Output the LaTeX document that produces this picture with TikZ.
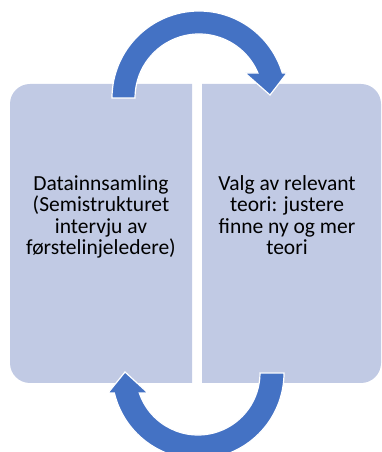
\documentclass[tikz,border=0pt]{standalone}
\usepackage{fontspec}
\setmainfont{Carlito}
\usetikzlibrary{positioning, calc}
\definecolor{boxblue}{HTML}{C1CAE4}
\definecolor{arrowblue}{HTML}{4472C4}

\begin{document}
\begin{tikzpicture}[x=1pt, y=1pt,
  stepbox/.style={fill=boxblue},
  steptext/.style={align=center, inner sep=0pt, anchor=north,
    font=\fontsize{21.5}{21.6}\selectfont},
  cyclearrow/.style={fill=arrowblue, draw=white, line width=1.2pt, line join=miter}]
  \useasboundingbox (0,0) rectangle (382,452);
  \clip (0,0) rectangle (382,452);

  % Boxes (outer corners rounded)
  \fill[stepbox] (192,69) -- (30,69) arc (270:180:20) -- (10,348) arc (180:90:20) -- (192,368) -- cycle;
  \fill[stepbox] (202,69) -- (361,69) arc (-90:0:20) -- (381,348) arc (0:90:20) -- (202,368) -- cycle;

  % Texts
  \node[steptext] (collect) at (101,277) {Datainnsamling\\(Semistrukturet\\intervju av\\førstelinjeledere)};
  \node[steptext] (theory) at (287,277) {Valg av relevant\\teori: justere\\finne ny og mer\\teori};

  % Upper arrow: left box -> right box
  \coordinate (topc) at (199,354);
  \filldraw[cyclearrow] ($(topc)+(180:87)$) arc (180:16.7:87) -- (287,379) -- (270,357)
    -- (245,379) -- ($(topc)+(23:64)$) arc (23:180:64) -- cycle;

  % Lower arrow: right box -> left box
  \coordinate (botc) at (198,79);
  \filldraw[cyclearrow] ($(botc)+(0:86)$) arc (0:-166.6:86) -- (108,59) -- (125,80)
    -- (148,59) -- ($(botc)+(-161.2:62)$) arc (-161.2:0:62) -- cycle;
\end{tikzpicture}
\end{document}
